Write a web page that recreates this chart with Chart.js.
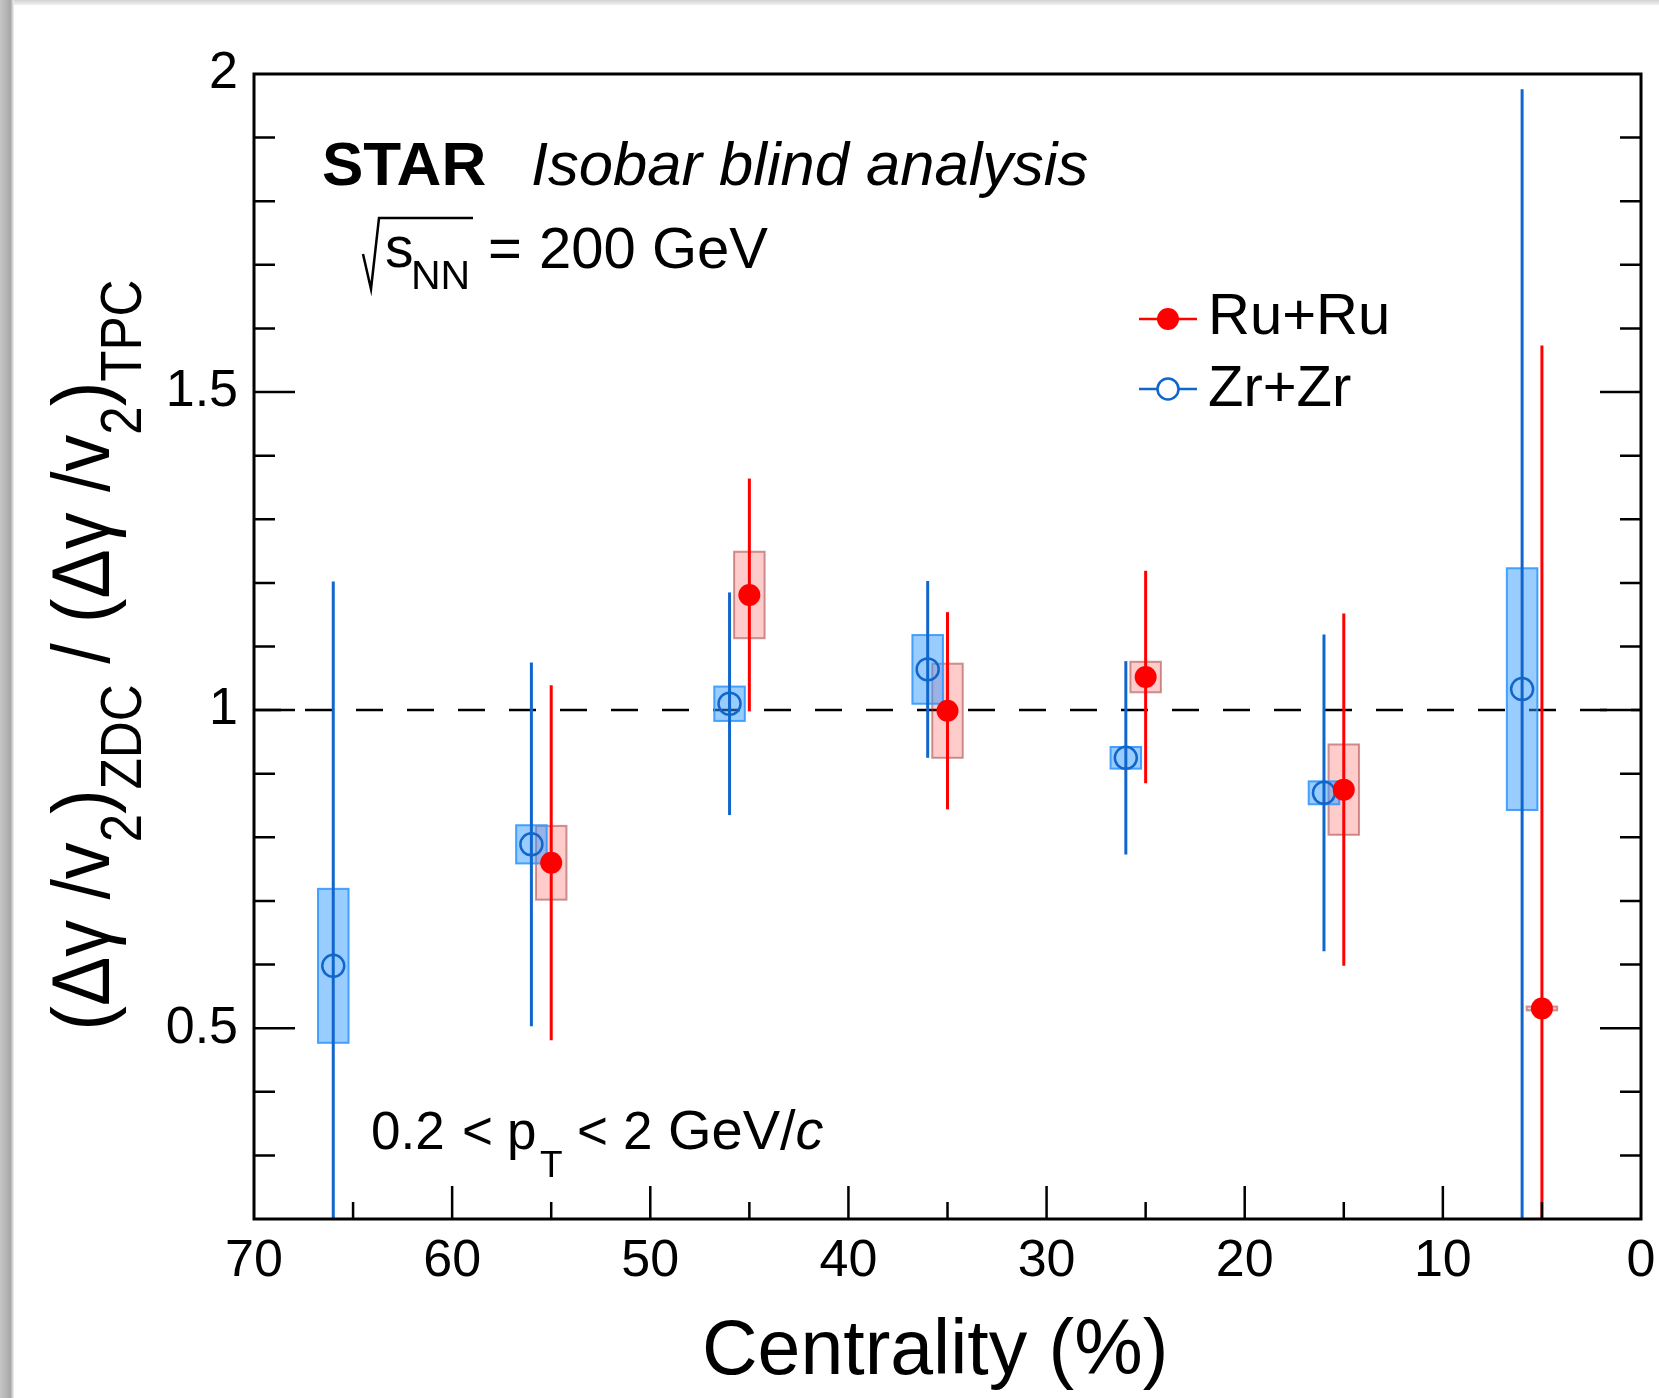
<!DOCTYPE html>
<html><head><meta charset="utf-8">
<script src="https://cdn.jsdelivr.net/npm/chart.js@4.4.1/dist/chart.umd.min.js"></script>
<style>html,body{margin:0;padding:0;background:#fff;overflow:hidden}canvas{display:block}</style>
</head><body>
<canvas id="c" width="1659" height="1398"></canvas>
<script>
const FONT = "'Liberation Sans', Arial, Helvetica, sans-serif";

// ---- data ----
const zrCentrality = [66, 56, 46, 36, 26, 16, 6];
const zrRatio      = [0.598, 0.789, 1.010, 1.064, 0.925, 0.870, 1.033];
const zrStatErr    = [0.604, 0.286, 0.175, 0.139, 0.152, 0.249, 0.943];
const zrSysErr     = [0.121, 0.030, 0.027, 0.054, 0.017, 0.018, 0.190];

const ruCentrality = [55, 45, 35, 25, 15, 5];
const ruRatio      = [0.760, 1.181, 0.999, 1.052, 0.875, 0.531];
const ruStatErr    = [0.279, 0.183, 0.155, 0.167, 0.277, 1.042];
const ruSysErr     = [0.058, 0.068, 0.074, 0.024, 0.071, 0.003];

const xMajorTicks = [10, 20, 30, 40, 50, 60];
const xMinorTicks = [5, 15, 25, 35, 45, 55, 65];
const yTickLabels = ['0.5', '1', '1.5', '2'];
const referenceLevel = 1;
const sysBoxHalfWidth = 0.77;

const RED = '#ff0000';
const BLUE = '#1166cc';

const decor = {
  id: 'decor',
  beforeDraw(chart) {
    const ctx = chart.ctx, W = chart.width, H = chart.height;
    ctx.save();
    ctx.fillStyle = '#fff';
    ctx.fillRect(0, 0, W, H);
    const g2 = ctx.createLinearGradient(0, 0, 0, 5);
    g2.addColorStop(0, '#d2d2d2'); g2.addColorStop(1, '#f2f2f2');
    ctx.fillStyle = g2; ctx.fillRect(0, 0, W, 5);
    const g = ctx.createLinearGradient(0, 0, 14, 0);
    g.addColorStop(0, '#c6c6c6'); g.addColorStop(0.75, '#a8a8a8'); g.addColorStop(1, '#f4f4f4');
    ctx.fillStyle = g; ctx.fillRect(0, 0, 14, H);
    ctx.restore();
  },
  beforeDatasetsDraw(chart) {
    const {ctx, chartArea: a, scales: {x, y}} = chart;
    ctx.save();
    ctx.beginPath(); ctx.rect(a.left, a.top, a.right - a.left, a.bottom - a.top); ctx.clip();
    // dashed reference line
    ctx.strokeStyle = '#000'; ctx.lineWidth = 2.5; ctx.setLineDash([27, 24]);
    const yr = y.getPixelForValue(referenceLevel);
    ctx.beginPath(); ctx.moveTo(a.left, yr); ctx.lineTo(a.right, yr); ctx.stroke();
    ctx.setLineDash([]);
    // systematic boxes
    function boxes(cs, vals, sys, fill, stroke) {
      for (let i = 0; i < cs.length; i++) {
        const x1 = x.getPixelForValue(cs[i] + sysBoxHalfWidth), x2 = x.getPixelForValue(cs[i] - sysBoxHalfWidth);
        const y1 = y.getPixelForValue(vals[i] + sys[i]), y2 = y.getPixelForValue(vals[i] - sys[i]);
        const l = Math.min(x1, x2), t = Math.min(y1, y2), w = Math.abs(x2 - x1), h = Math.max(Math.abs(y2 - y1), 1);
        ctx.fillStyle = fill; ctx.fillRect(l, t, w, h);
        ctx.strokeStyle = stroke; ctx.lineWidth = 2; ctx.strokeRect(l, t, w, h);
      }
    }
    boxes(ruCentrality, ruRatio, ruSysErr, 'rgba(255,0,0,0.2)', 'rgba(153,51,51,0.5)');
    boxes(zrCentrality, zrRatio, zrSysErr, 'rgba(51,153,255,0.5)', 'rgba(51,153,255,0.9)');
    // statistical error bars
    function stat(cs, vals, err, col) {
      ctx.strokeStyle = col; ctx.lineWidth = 3;
      for (let i = 0; i < cs.length; i++) {
        const px = x.getPixelForValue(cs[i]);
        ctx.beginPath();
        ctx.moveTo(px, y.getPixelForValue(vals[i] + err[i]));
        ctx.lineTo(px, y.getPixelForValue(vals[i] - err[i]));
        ctx.stroke();
      }
    }
    stat(zrCentrality, zrRatio, zrStatErr, BLUE);
    stat(ruCentrality, ruRatio, ruStatErr, RED);
    ctx.restore();
  },
  afterDraw(chart) {
    const {ctx, chartArea: a, scales: {x, y}} = chart;
    ctx.save();
    // frame
    ctx.strokeStyle = '#000'; ctx.lineWidth = 3;
    ctx.strokeRect(a.left, a.top, a.right - a.left, a.bottom - a.top);
    // ticks
    ctx.lineWidth = 2.5;
    ctx.beginPath();
    for (let k = 3; k <= 19; k++) {
      const v = k / 10, py = y.getPixelForValue(v);
      const len = (k % 5 === 0) ? 41 : 21;
      ctx.moveTo(a.left, py); ctx.lineTo(a.left + len, py);
      ctx.moveTo(a.right, py); ctx.lineTo(a.right - len, py);
    }
    for (const v of xMajorTicks) { const px = x.getPixelForValue(v); ctx.moveTo(px, a.bottom); ctx.lineTo(px, a.bottom - 33); }
    for (const v of xMinorTicks) { const px = x.getPixelForValue(v); ctx.moveTo(px, a.bottom); ctx.lineTo(px, a.bottom - 17); }
    ctx.stroke();

    ctx.fillStyle = '#000'; ctx.textBaseline = 'alphabetic'; ctx.textAlign = 'left';
    // STAR label
    ctx.font = `bold 62px ${FONT}`; ctx.fillText('STAR', 322, 185);
    ctx.font = `italic 61.5px ${FONT}`; ctx.fillText('Isobar blind analysis', 531, 185);
    // sqrt(s_NN)
    ctx.lineWidth = 2.5; ctx.lineJoin = 'miter';
    ctx.beginPath(); ctx.moveTo(363, 254); ctx.lineTo(371, 289); ctx.lineTo(379, 218); ctx.lineTo(473, 218); ctx.stroke();
    ctx.font = `57px ${FONT}`; ctx.fillText('s', 385, 267);
    ctx.font = `41px ${FONT}`; ctx.fillText('NN', 411, 289);
    ctx.font = `58px ${FONT}`; ctx.fillText('=', 488, 268); ctx.fillText('200 GeV', 539, 268);
    // pT range
    const f53 = `53px ${FONT}`;
    ctx.font = f53; ctx.fillText('0.2', 371, 1149); ctx.fillText('<', 462, 1149); ctx.fillText('p', 507, 1149);
    ctx.font = `37px ${FONT}`; ctx.fillText('T', 540, 1177);
    ctx.font = f53; ctx.fillText('<', 577, 1149); ctx.fillText('2', 623, 1149);
    ctx.font = `56px ${FONT}`; ctx.fillText('GeV/', 668, 1149);
    const wG = ctx.measureText('GeV/').width;
    ctx.font = `italic 56px ${FONT}`; ctx.fillText('c', 668 + wG, 1149);
    // legend
    ctx.lineWidth = 2.5;
    ctx.strokeStyle = RED; ctx.beginPath(); ctx.moveTo(1139, 319); ctx.lineTo(1197, 319); ctx.stroke();
    ctx.fillStyle = RED; ctx.beginPath(); ctx.arc(1168, 319, 11, 0, Math.PI * 2); ctx.fill();
    ctx.strokeStyle = BLUE; ctx.beginPath(); ctx.moveTo(1139, 389); ctx.lineTo(1157, 389); ctx.moveTo(1179, 389); ctx.lineTo(1197, 389); ctx.stroke();
    ctx.beginPath(); ctx.arc(1168, 389, 10.5, 0, Math.PI * 2); ctx.stroke();
    ctx.fillStyle = '#000'; ctx.font = `58px ${FONT}`;
    ctx.fillText('Ru+Ru', 1208, 334); ctx.fillText('Zr+Zr', 1208, 406);
    // x title
    ctx.font = `77px ${FONT}`; ctx.fillText('Centrality (%)', 702, 1374);
    // y title
    const F = 82, S = 57, sub = 32;
    const segs = [['(Δγ /v', 0], ['2', 1], [')', 0], ['ZDC', 1], [' / (Δγ /v', 0], ['2', 1], [')', 0], ['TPC', 1]];
    let total = 0; const ws = [];
    for (const [t, s] of segs) { ctx.font = `${s ? S : F}px ${FONT}`; const w = ctx.measureText(t).width; ws.push(w); total += w; }
    const sx = 751 / total;
    ctx.translate(109, 655); ctx.rotate(-Math.PI / 2); ctx.scale(sx, 1);
    let cx = -total / 2;
    segs.forEach(([t, s], i) => { ctx.font = `${s ? S : F}px ${FONT}`; ctx.fillText(t, cx, s ? sub : 0); cx += ws[i]; });
    ctx.restore();
  }
};

new Chart(document.getElementById('c'), {
  type: 'scatter',
  data: {
    datasets: [
      { label: 'Ru+Ru', data: ruCentrality.map((c, i) => ({x: c, y: ruRatio[i]})),
        pointRadius: 11, pointBackgroundColor: RED, pointBorderColor: RED, pointBorderWidth: 0, pointHoverRadius: 11 },
      { label: 'Zr+Zr', data: zrCentrality.map((c, i) => ({x: c, y: zrRatio[i]})),
        pointRadius: 11, pointBackgroundColor: 'rgba(0,0,0,0)', pointBorderColor: BLUE, pointBorderWidth: 2.5, pointHoverRadius: 11 }
    ]
  },
  options: {
    responsive: false, animation: false, devicePixelRatio: 1,
    layout: { padding: { top: 74, right: 18, left: 0, bottom: 0 } },
    plugins: { legend: { display: false }, tooltip: { enabled: false } },
    scales: {
      x: {
        type: 'linear', min: 0, max: 70, reverse: true,
        grid: { display: false, drawTicks: false }, border: { display: false },
        ticks: { stepSize: 10, autoSkip: false, maxRotation: 0, padding: 11, color: '#000', font: { family: FONT, size: 52 } },
        afterFit(s) { s.height = 179; s.paddingLeft = 0; s.paddingRight = 0; }
      },
      y: {
        type: 'linear', min: 0.2, max: 2,
        grid: { display: false, drawTicks: false }, border: { display: false },
        ticks: { stepSize: 0.1, autoSkip: false, padding: 16, color: '#000', font: { family: FONT, size: 52 },
          callback(v) { const r = Math.round(v * 10); return (r % 5 === 0 && r >= 5) ? (yTickLabels[r / 5 - 1] || '') : ''; } },
        afterFit(s) { s.width = 254; s.paddingTop = 0; s.paddingBottom = 0; }
      }
    }
  },
  plugins: [decor]
});
</script>
</body></html>
